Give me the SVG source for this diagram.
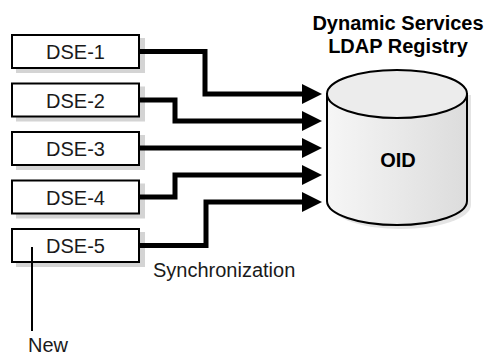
<svg xmlns="http://www.w3.org/2000/svg" width="492" height="355" viewBox="0 0 492 355">
<defs>
<style>
.box{fill:#fff;stroke:#000;stroke-width:2}
.shadow{fill:#d4d4d4}
.lbl{font-family:"Liberation Sans",Arial,sans-serif;font-size:20px;fill:#1a1a1a}
.bold{font-family:"Liberation Sans",Arial,sans-serif;font-size:20px;font-weight:bold;fill:#000}
.conn{fill:none;stroke:#000;stroke-width:5;stroke-linejoin:miter}
.thin{fill:none;stroke:#000;stroke-width:2}
</style>
<marker id="ah" viewBox="0 0 20 20" refX="0" refY="10" markerWidth="20" markerHeight="20" markerUnits="userSpaceOnUse" orient="auto">
<polygon points="0,0 20,10 0,20" fill="#000"/>
</marker>
<linearGradient id="body" x1="0" y1="0" x2="1" y2="0">
<stop offset="0" stop-color="#f6f6f6"/>
<stop offset="1" stop-color="#dcdcdc"/>
</linearGradient>
</defs>
<rect width="492" height="355" fill="#fff"/>
<g id="title">
<text class="bold" x="398" y="30" text-anchor="middle">Dynamic Services</text>
<text class="bold" x="398" y="53" text-anchor="middle">LDAP Registry</text>
</g>
<g id="oid">
<path d="M331,95 V205 A70,24 0 0 0 471,205 V95 Z" fill="#d8d8d8" opacity="0.7"/>
<path d="M327,94 V201 A70,24 0 0 0 467,201 V94 Z" fill="url(#body)" stroke="#000" stroke-width="2"/>
<ellipse cx="397" cy="94" rx="70" ry="24" fill="#ececec" stroke="#000" stroke-width="2"/>
<text class="bold" x="398" y="167" text-anchor="middle">OID</text>
</g>
<g id="dse1">
<rect class="shadow" x="16" y="38" width="129" height="35"/>
<rect class="box" x="12" y="35" width="127" height="33"/>
<text class="lbl" x="75.5" y="59" text-anchor="middle">DSE-1</text>
</g>
<g id="dse2">
<rect class="shadow" x="16" y="86.5" width="129" height="35"/>
<rect class="box" x="12" y="83.5" width="127" height="33"/>
<text class="lbl" x="75.5" y="107.5" text-anchor="middle">DSE-2</text>
</g>
<g id="dse3">
<rect class="shadow" x="16" y="135" width="129" height="35"/>
<rect class="box" x="12" y="132" width="127" height="33"/>
<text class="lbl" x="75.5" y="156" text-anchor="middle">DSE-3</text>
</g>
<g id="dse4">
<rect class="shadow" x="16" y="183.5" width="129" height="35"/>
<rect class="box" x="12" y="180.5" width="127" height="33"/>
<text class="lbl" x="75.5" y="204.5" text-anchor="middle">DSE-4</text>
</g>
<g id="dse5">
<rect class="shadow" x="16" y="232" width="129" height="35"/>
<rect class="box" x="12" y="229" width="127" height="33"/>
<text class="lbl" x="75.5" y="253" text-anchor="middle">DSE-5</text>
</g>
<g id="connectors">
<path class="conn" d="M140,51.5 H205 V94 H302" marker-end="url(#ah)"/>
<path class="conn" d="M140,100 H175 V121 H302" marker-end="url(#ah)"/>
<path class="conn" d="M140,148 H302" marker-end="url(#ah)"/>
<path class="conn" d="M140,197 H175 V175 H302" marker-end="url(#ah)"/>
<path class="conn" d="M140,245.5 H206 V202 H302" marker-end="url(#ah)"/>
<path class="thin" d="M32,247 V331"/>
</g>
<g id="labels">
<text class="lbl" x="153" y="277">Synchronization</text>
<text class="lbl" x="28" y="352">New</text>
</g>
</svg>
